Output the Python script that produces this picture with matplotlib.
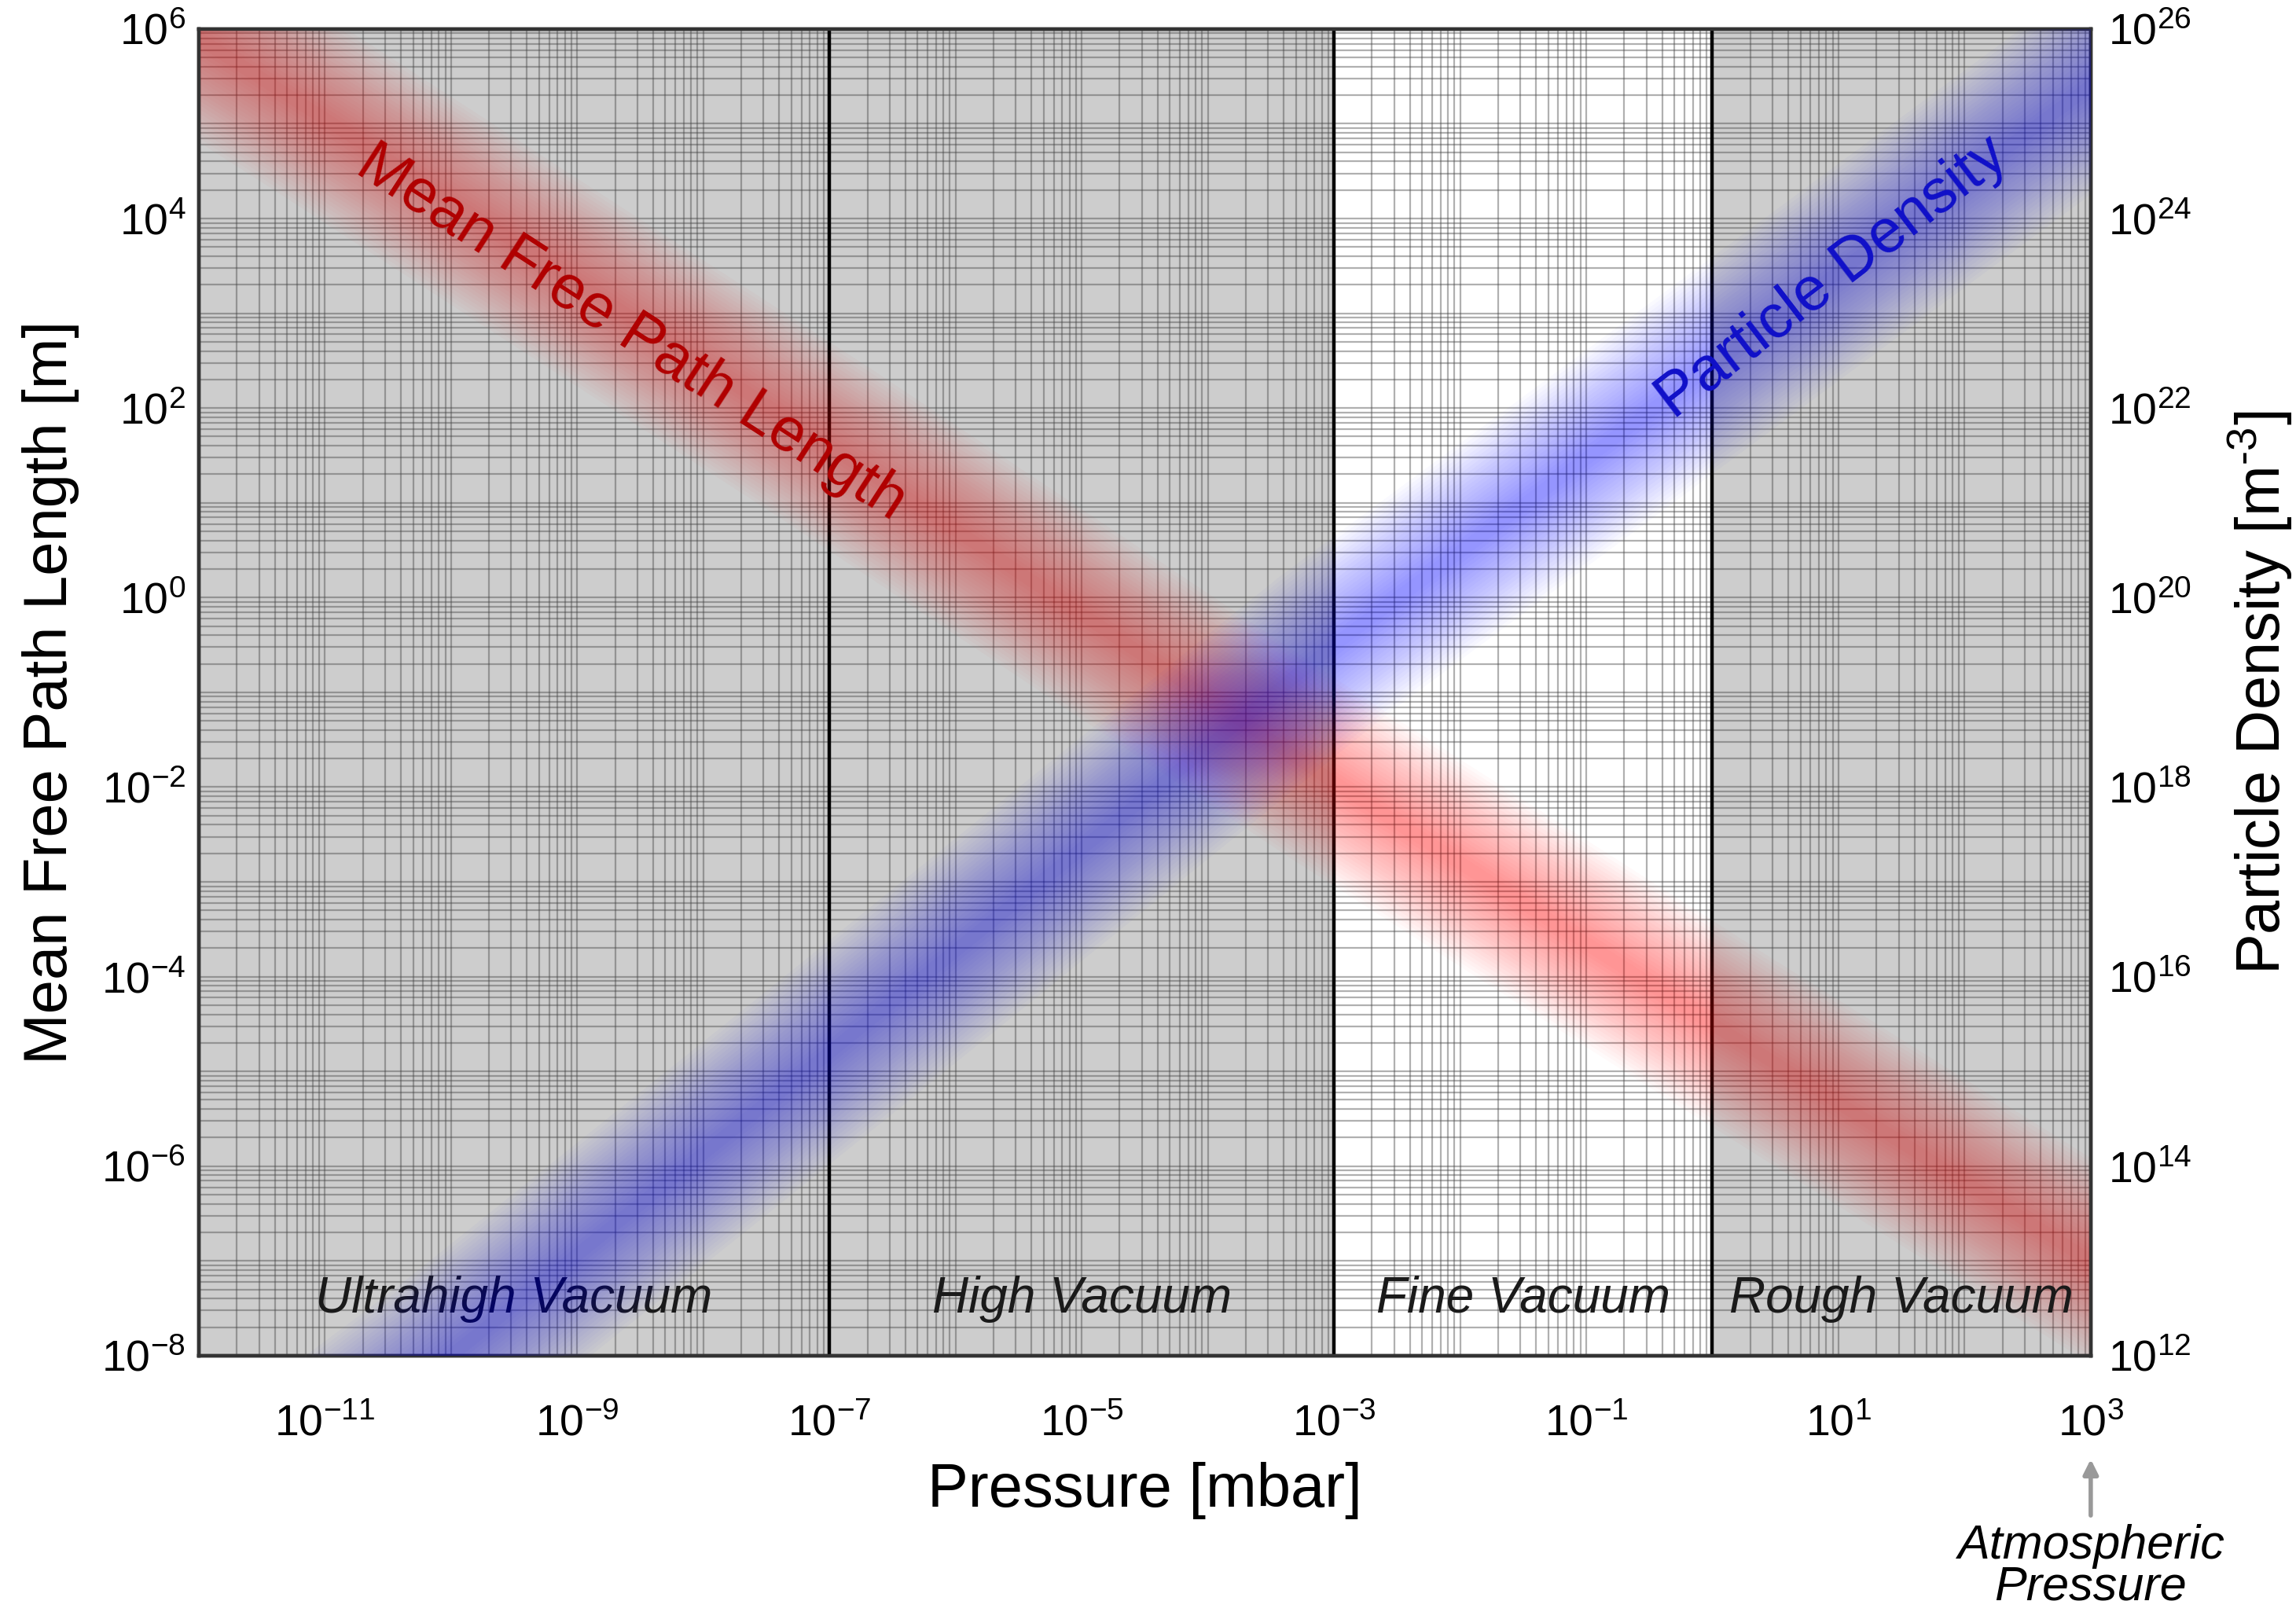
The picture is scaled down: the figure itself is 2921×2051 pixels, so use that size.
import numpy as np
import matplotlib
matplotlib.use("Agg")
import matplotlib.pyplot as plt
from matplotlib.ticker import FixedLocator, LogLocator, LogFormatterSciNotation, NullFormatter

plt.rcParams.update({
    "font.family": ["Liberation Sans", "DejaVu Sans"],
    "mathtext.fontset": "custom",
    "mathtext.rm": "Liberation Sans",
    "mathtext.it": "Liberation Sans:italic",
    "axes.unicode_minus": False,
})

# pressure [mbar] at which the band centres were read
p_mfp = [1e-12, 1e-11, 1e-7, 1e-3, 1e0, 1e3]
mean_free_path = [10**5.9, 10**5.05, 10**1.6, 10**-1.95, 10**-4.5, 10**-7.0]   # m

p_dens = [1e-11, 1e-10, 1e-7, 1e-3, 1e0, 1e3]
particle_density = [1e11, 1e12, 10**15.2, 10**19.5, 10**22.45, 10**25.4]     # m^-3

# vacuum ranges [mbar]
region_names = ["Ultrahigh Vacuum", "High Vacuum", "Fine Vacuum", "Rough Vacuum"]
region_edges = [1e-12, 1e-7, 1e-3, 1e0, 1e3]
region_shaded = [True, True, False, True]

x_ticks = [1e-11, 1e-9, 1e-7, 1e-5, 1e-3, 1e-1, 1e1, 1e3]
yl_ticks = [1e-8, 1e-6, 1e-4, 1e-2, 1e0, 1e2, 1e4, 1e6]
yr_ticks = [1e12, 1e14, 1e16, 1e18, 1e20, 1e22, 1e24, 1e26]

fig = plt.figure(figsize=(14.605, 10.255), dpi=200)
ax = fig.add_axes([0.0866, 0.159, 0.824, 0.823])
ax.set_xscale("log")
ax.set_yscale("log")
ax.set_xlim(region_edges[0], region_edges[-1])
ax.set_ylim(1e-8, 1e6)

# background shading of the vacuum ranges
for lo, hi, shaded in zip(region_edges[:-1], region_edges[1:], region_shaded):
    ax.axvspan(lo, hi, color="#cdcdcd" if shaded else "white", lw=0, zorder=0)
for edge in region_edges[1:-1]:
    ax.axvline(edge, color="black", lw=1.6, zorder=2)

# dense log grid
ax.xaxis.set_major_locator(FixedLocator(x_ticks))
ax.xaxis.set_minor_locator(LogLocator(base=10, subs=np.arange(1, 10), numticks=100))
ax.xaxis.set_minor_formatter(NullFormatter())
ax.yaxis.set_major_locator(FixedLocator(yl_ticks))
ax.yaxis.set_minor_locator(LogLocator(base=10, subs=np.arange(1, 10), numticks=100))
ax.yaxis.set_minor_formatter(NullFormatter())
ax.xaxis.set_major_formatter(LogFormatterSciNotation())
ax.yaxis.set_major_formatter(LogFormatterSciNotation())
ax.grid(which="both", color="#444444", lw=0.8, alpha=0.42, zorder=1)
ax.set_axisbelow(True)

ax2 = ax.twinx()
ax2.set_yscale("log")
ax2.set_ylim(1e12, 1e26)
ax2.yaxis.set_major_locator(FixedLocator(yr_ticks))
ax2.yaxis.set_minor_locator(FixedLocator([]))
ax2.yaxis.set_major_formatter(LogFormatterSciNotation())


def glow(axis, x, y, color):
    widths = np.linspace(80, 6, 24)
    for w in widths:
        axis.plot(x, y, color=color, lw=w, alpha=0.021,
                  solid_capstyle="projecting", zorder=3)


glow(ax, p_mfp, mean_free_path, "#ff0000")
glow(ax2, p_dens, particle_density, "#0000ff")

ax.text(10**-8.57, 10**2.79, "Mean Free Path Length", color="#b00000", fontsize=28,
        rotation=-33, ha="center", va="center", rotation_mode="anchor", zorder=5)
ax2.text(10**0.95, 10**23.37, "Particle Density", color="#1010c8", fontsize=28,
         rotation=37.5, ha="center", va="center", rotation_mode="anchor", zorder=5)

for name, lo, hi in zip(region_names, region_edges[:-1], region_edges[1:]):
    ax.text(np.sqrt(lo * hi), 10**-7.4, name, fontsize=23, style="italic",
            color="#1a1a1a", ha="center", va="center", zorder=5)

for a in (ax, ax2):
    for s in a.spines.values():
        s.set_linewidth(1.6)
        s.set_color("#333333")
ax.tick_params(which="both", length=0, labelsize=20)
ax.tick_params(axis="x", pad=22)
ax.tick_params(axis="y", pad=6)
ax2.tick_params(which="both", length=0, labelsize=20, pad=8)

ax.set_xlabel("Pressure [mbar]", fontsize=28, labelpad=8)
ax.set_ylabel("Mean Free Path Length [m]", fontsize=28, labelpad=10)
ax2.set_ylabel(r"Particle Density [m$^{\text{-}3}$]", fontsize=28, labelpad=16)

ax.annotate("Atmospheric\nPressure", xy=(1e3, -0.078), xytext=(1e3, -0.127),
            xycoords=("data", "axes fraction"), textcoords=("data", "axes fraction"),
            ha="center", va="top", fontsize=22, style="italic", linespacing=0.9,
            arrowprops=dict(arrowstyle="-|>", color="#999999", lw=2,
                            mutation_scale=14, shrinkA=2, shrinkB=0))

fig.savefig("out.png", dpi=200)
